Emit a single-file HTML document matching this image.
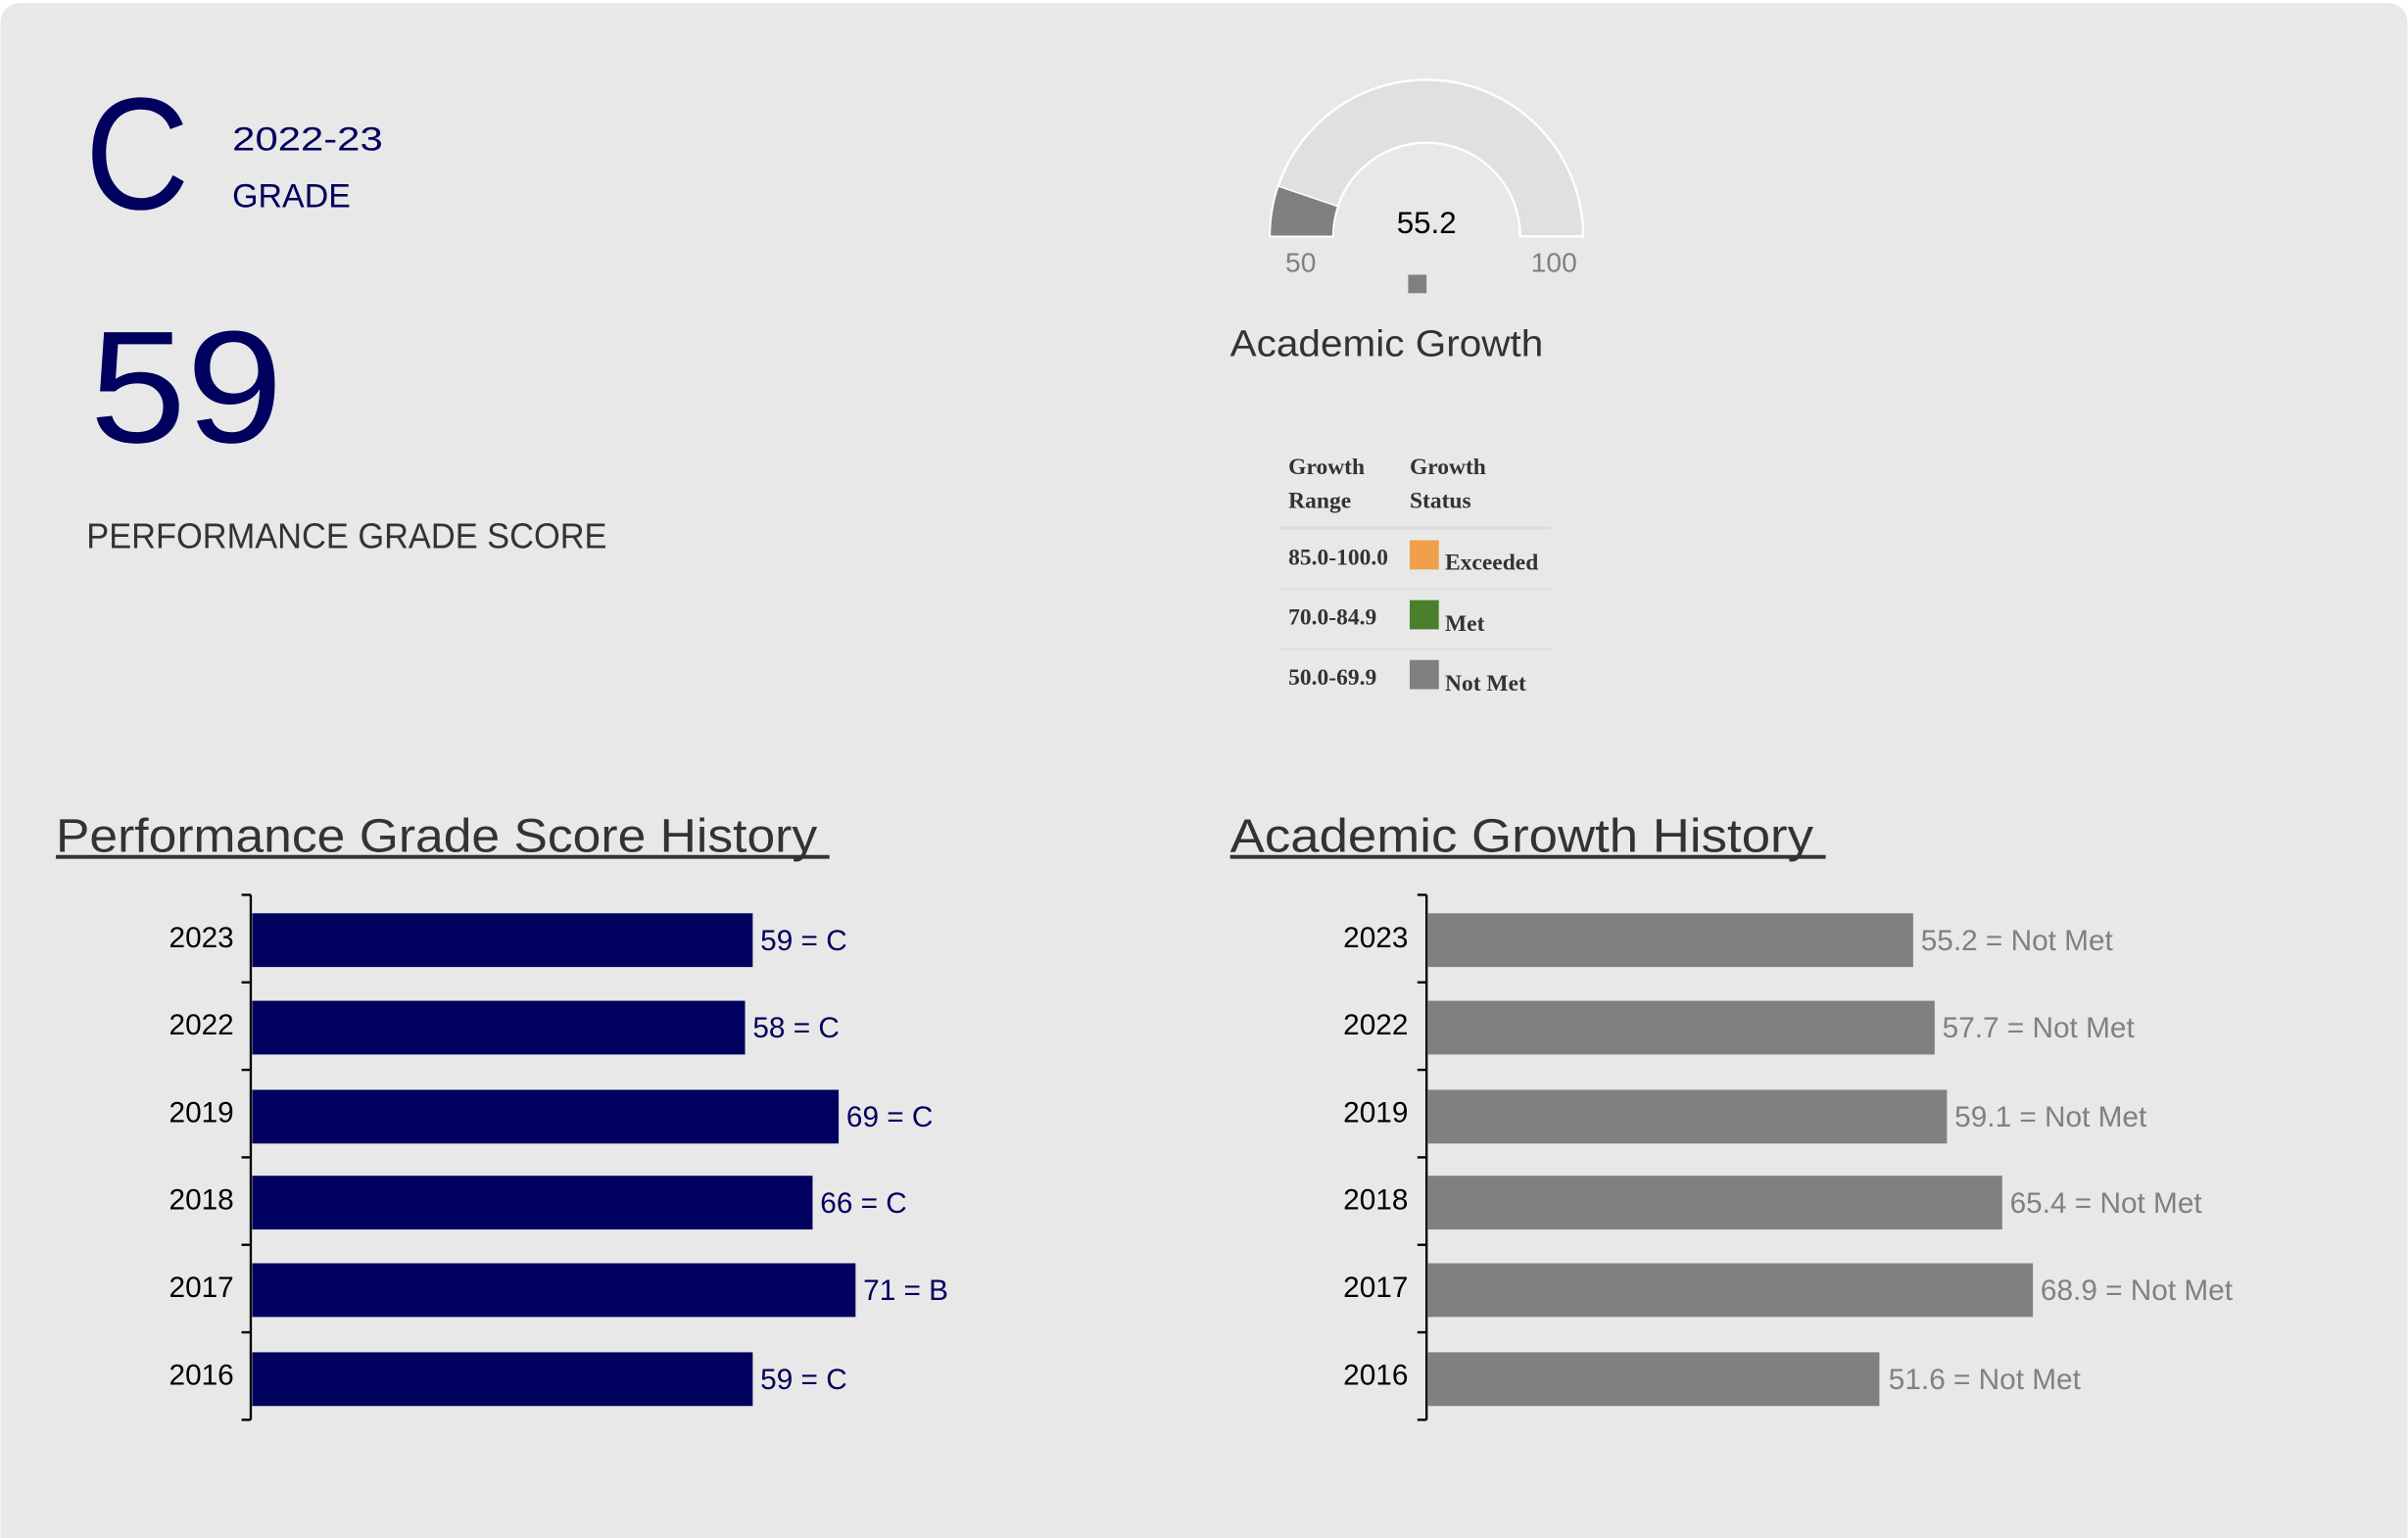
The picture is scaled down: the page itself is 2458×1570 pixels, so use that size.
<!DOCTYPE html>
<html><head><meta charset="utf-8"><style>
html,body{margin:0;padding:0;background:#fff;}
svg{display:block;}
text{font-family:"Liberation Sans",sans-serif;}
.s{font-family:"Liberation Serif",serif;font-weight:bold;font-size:15px;fill:#333;}
</style></head><body>
<svg width="2458" height="1570" viewBox="0 0 1568 1002" xmlns="http://www.w3.org/2000/svg">
<rect x="0" y="0" width="1568" height="1002" fill="#fff"/>
<rect x="0" y="2" width="1568" height="1012" rx="12" fill="#e8e8e8"/>
<g fill="#00005e">
<text x="55" y="136" font-size="104" textLength="68" lengthAdjust="spacingAndGlyphs">C</text>
<text x="151" y="98" font-size="22" textLength="98" lengthAdjust="spacingAndGlyphs">2022-23</text>
<text x="151" y="135" font-size="22" textLength="77" lengthAdjust="spacingAndGlyphs">GRADE</text>
<text x="58" y="288" font-size="104" textLength="126" lengthAdjust="spacingAndGlyphs">59</text>
</g>
<text x="56" y="357" font-size="23" fill="#333" textLength="339" lengthAdjust="spacingAndGlyphs">PERFORMANCE GRADE SCORE</text>

<!-- gauge -->
<path d="M827 154 A102 102 0 0 1 1031 154 L990 154 A61 61 0 0 0 868 154 Z" fill="#e0e0e0" stroke="#fff" stroke-width="1.5"/>
<path d="M827 154 A102 102 0 0 1 832.4 121.3 L871.2 134.4 A61 61 0 0 0 868 154 Z" fill="#808080" stroke="#fff" stroke-width="1"/>
<text x="929" y="152" font-size="20" fill="#000" text-anchor="middle">55.2</text>
<text x="847" y="177" font-size="18" fill="#808080" text-anchor="middle">50</text>
<text x="1012" y="177" font-size="18" fill="#808080" text-anchor="middle">100</text>
<rect x="917" y="179" width="12" height="12" fill="#808080"/>
<text x="801" y="232" font-size="24" fill="#333" textLength="204" lengthAdjust="spacingAndGlyphs">Academic Growth</text>

<!-- table -->
<text class="s" x="839" y="309">Growth</text>
<text class="s" x="839" y="331">Range</text>
<text class="s" x="918" y="309">Growth</text>
<text class="s" x="918" y="331">Status</text>
<rect x="833" y="343" width="177" height="2" fill="#ddd"/>
<rect x="833" y="383" width="177" height="1.5" fill="#ddd"/>
<rect x="833" y="422" width="177" height="1.5" fill="#ddd"/>
<text class="s" x="839" y="368">85.0-100.0</text>
<rect x="918" y="352" width="19" height="19" fill="#f0a04b"/>
<text class="s" x="941" y="371">Exceeded</text>
<text class="s" x="839" y="407">70.0-84.9</text>
<rect x="918" y="391" width="19" height="19" fill="#4a7f2c"/>
<text class="s" x="941" y="411">Met</text>
<text class="s" x="839" y="446">50.0-69.9</text>
<rect x="918" y="430" width="19" height="19" fill="#808080"/>
<text class="s" x="941" y="450">Not Met</text>

<!-- titles -->
<text x="36" y="555" font-size="31" fill="#333" textLength="496" lengthAdjust="spacingAndGlyphs">Performance Grade Score History</text>
<rect x="36" y="557" width="504" height="2.5" fill="#333"/>
<text x="801" y="555" font-size="31" fill="#333" textLength="380" lengthAdjust="spacingAndGlyphs">Academic Growth History</text>
<rect x="801" y="557" width="388" height="2.5" fill="#333"/>

<!-- axes -->
<g stroke="#000" stroke-width="1.5">
<line x1="163" y1="583" x2="163" y2="925"/>
<line x1="157" y1="583" x2="163" y2="583"/><line x1="157" y1="640" x2="163" y2="640"/>
<line x1="157" y1="697" x2="163" y2="697"/><line x1="157" y1="754" x2="163" y2="754"/>
<line x1="157" y1="811" x2="163" y2="811"/><line x1="157" y1="868" x2="163" y2="868"/>
<line x1="157" y1="925" x2="163" y2="925"/>
<line x1="929" y1="583" x2="929" y2="925"/>
<line x1="923" y1="583" x2="929" y2="583"/><line x1="923" y1="640" x2="929" y2="640"/>
<line x1="923" y1="697" x2="929" y2="697"/><line x1="923" y1="754" x2="929" y2="754"/>
<line x1="923" y1="811" x2="929" y2="811"/><line x1="923" y1="868" x2="929" y2="868"/>
<line x1="923" y1="925" x2="929" y2="925"/>
</g>
<g fill="#00005e">
<rect x="164" y="595" width="326" height="35"/>
<rect x="164" y="652" width="321" height="35"/>
<rect x="164" y="710" width="382" height="35"/>
<rect x="164" y="766" width="365" height="35"/>
<rect x="164" y="823" width="393" height="35"/>
<rect x="164" y="881" width="326" height="35"/>
</g>
<g font-size="19" fill="#000" text-anchor="end">
<text x="152" y="617">2023</text><text x="152" y="674">2022</text><text x="152" y="731">2019</text>
<text x="152" y="788">2018</text><text x="152" y="845">2017</text><text x="152" y="902">2016</text>
<text x="917" y="617">2023</text><text x="917" y="674">2022</text><text x="917" y="731">2019</text>
<text x="917" y="788">2018</text><text x="917" y="845">2017</text><text x="917" y="902">2016</text>
</g>
<g font-size="19" fill="#00005e">
<text x="495" y="619">59 = C</text><text x="490" y="676">58 = C</text><text x="551" y="734">69 = C</text>
<text x="534" y="790">66 = C</text><text x="562" y="847">71 = B</text><text x="495" y="905">59 = C</text>
</g>
<g fill="#808080">
<rect x="930" y="595" width="316" height="35"/>
<rect x="930" y="652" width="330" height="35"/>
<rect x="930" y="710" width="338" height="35"/>
<rect x="930" y="766" width="374" height="35"/>
<rect x="930" y="823" width="394" height="35"/>
<rect x="930" y="881" width="294" height="35"/>
</g>
<g font-size="19" fill="#808080">
<text x="1251" y="619">55.2 = Not Met</text><text x="1265" y="676">57.7 = Not Met</text>
<text x="1273" y="734">59.1 = Not Met</text><text x="1309" y="790">65.4 = Not Met</text>
<text x="1329" y="847">68.9 = Not Met</text><text x="1230" y="905">51.6 = Not Met</text>
</g>
</svg>
</body></html>
